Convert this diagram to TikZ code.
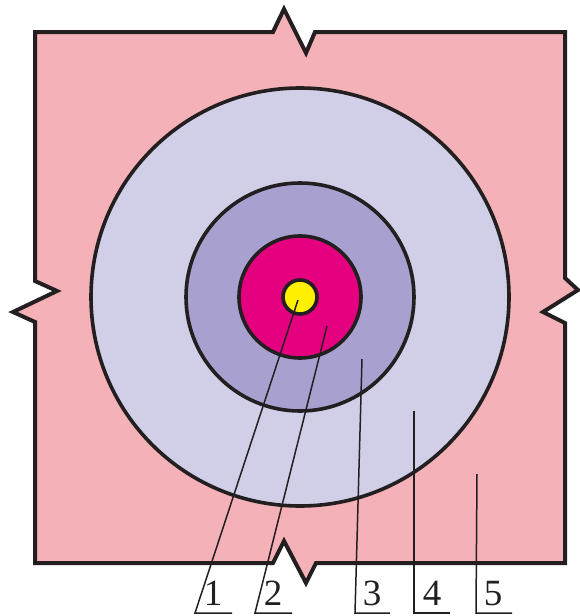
\documentclass[tikz,border=0pt]{standalone}
\usepackage{fontspec}
\setmainfont{Liberation Serif}
\definecolor{bgpink}{RGB}{244,177,183}
\definecolor{lav}{RGB}{208,207,231}
\definecolor{midpur}{RGB}{168,161,207}
\definecolor{mag}{RGB}{228,0,127}
\definecolor{yel}{RGB}{255,240,0}
\definecolor{ink}{RGB}{35,31,32}
\begin{document}
\begin{tikzpicture}[x=1pt,y=-1pt,
  ring/.style={circle,draw=ink,line width=3.6pt,inner sep=0pt,outer sep=0pt},
  leader/.style={draw=ink,line width=1.5pt},
  lbl/.style={anchor=base,inner sep=0pt,font=\fontsize{37}{42}\selectfont,text=ink}]
\useasboundingbox (0,0) rectangle (579,616);
% background block with break marks
\filldraw[fill=bgpink,draw=ink,line width=4pt,line join=miter]
  (35,32) -- (273,32) -- (284,9) -- (306,53) -- (315,32) -- (565,32)
  -- (565,278) -- (578,290) -- (543,312) -- (565,323) -- (565,563)
  -- (316,563) -- (306,583) -- (284,541) -- (273,563) -- (35,563)
  -- (35,322) -- (13,312) -- (57,291) -- (35,281) -- cycle;
% rings
\node[ring,fill=lav,minimum size=418pt] (r4) at (300,297) {};
\node[ring,fill=midpur,minimum size=228pt] (r3) at (300,297) {};
\node[ring,fill=mag,minimum size=122pt] (r2) at (300,297) {};
\node[ring,fill=yel,minimum size=34pt] (r1) at (300,297) {};
% leader coordinates
\coordinate (p1) at (298,300);
\coordinate (p2) at (327,326);
\coordinate (p3) at (362,359);
\coordinate (p4) at (414,411);
\coordinate (p5) at (477,474);
\coordinate (b1) at (195,613);
\coordinate (b2) at (255,613);
\coordinate (b3) at (355,613);
\coordinate (b4) at (414,613);
\coordinate (b5) at (476,613);
\coordinate (e1) at (232,613);
\coordinate (e2) at (292,613);
\coordinate (e3) at (390,613);
\coordinate (e4) at (450,613);
\coordinate (e5) at (512,613);
\draw[leader] (p1) -- (b1) -- (e1);
\draw[leader] (p2) -- (b2) -- (e2);
\draw[leader] (p3) -- (b3) -- (e3);
\draw[leader] (p4) -- (b4) -- (e4);
\draw[leader] (p5) -- (b5) -- (e5);
% labels
\node[lbl] (l1) at (213,605) {1};
\node[lbl] (l2) at (273,605) {2};
\node[lbl] (l3) at (372,605) {3};
\node[lbl] (l4) at (432,605) {4};
\node[lbl] (l5) at (493,605) {5};
\end{tikzpicture}
\end{document}
